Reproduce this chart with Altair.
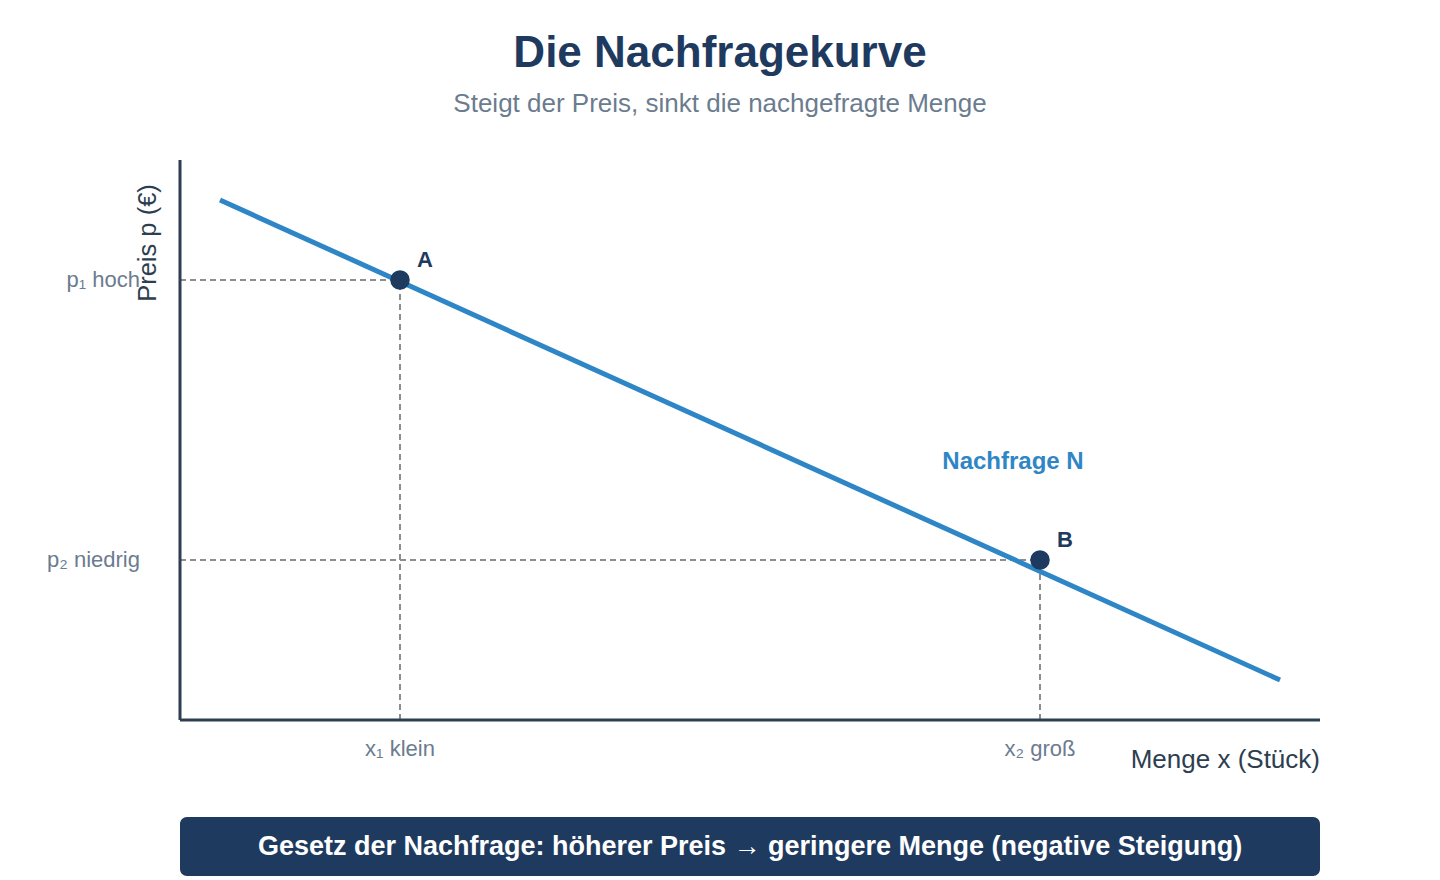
import altair as alt
import pandas as pd

FONT = "Liberation Sans"
NAVY = "#1f3a5f"
BLUE = "#2e86c6"
GREY = "#6b7c8f"
AXIS = "#2d3e50"

# Demand curve endpoints (quantity, price)
demand_qty = [2, 55]
demand_price = [26, 2]

# Marked points on the curve
point_names = ["A", "B"]
point_qty = [11, 43]
point_price = [22, 8]

# Axis extents
qty_max = 57
price_max = 28

# Tick labels
price_labels = ["p\u2081 hoch", "p\u2082 niedrig"]
qty_labels = ["x\u2081 klein", "x\u2082 gro\u00df"]

title_text = "Die Nachfragekurve"
subtitle_text = "Steigt der Preis, sinkt die nachgefragte Menge"
law_text = "Gesetz der Nachfrage: h\u00f6herer Preis \u2192 geringere Menge (negative Steigung)"
curve_label = "Nachfrage N"

xs = alt.Scale(domain=[0, qty_max], range=[180, 1320])
ys = alt.Scale(domain=[0, price_max], range=[720, 160])

demand = pd.DataFrame({"qty": demand_qty, "price": demand_price})
pts = pd.DataFrame({"name": point_names, "qty": point_qty, "price": point_price,
                    "plabel": price_labels, "qlabel": qty_labels,
                    "zero": [0, 0]})
axes = pd.DataFrame({"qty": [0, 0], "price": [0, 0],
                     "qty2": [qty_max, 0], "price2": [0, price_max]})

X = lambda f: alt.X(f, type="quantitative", scale=xs, axis=None)
Y = lambda f: alt.Y(f, type="quantitative", scale=ys, axis=None)

dash_h = alt.Chart(pts).mark_rule(color="#8a8f94", strokeWidth=2, strokeDash=[6, 4]).encode(
    x=X("zero"), x2="qty", y=Y("price"))
dash_v = alt.Chart(pts).mark_rule(color="#8a8f94", strokeWidth=2, strokeDash=[6, 4]).encode(
    x=X("qty"), y=Y("zero"), y2="price")

axis_lines = alt.Chart(axes).mark_rule(color=AXIS, strokeWidth=3).encode(
    x=X("qty"), x2="qty2", y=Y("price"), y2="price2")

curve = alt.Chart(demand).mark_line(color=BLUE, strokeWidth=5).encode(
    x=X("qty"), y=Y("price"))

dots = alt.Chart(pts).mark_circle(color=NAVY, opacity=1, size=380).encode(
    x=X("qty"), y=Y("price"))

dot_labels = alt.Chart(pts).mark_text(font=FONT, fontSize=22, fontWeight="bold", color=NAVY,
                                      dx=25, dy=-20).encode(
    x=X("qty"), y=Y("price"), text="name")

p_labels = alt.Chart(pts).mark_text(font=FONT, fontSize=22, color=GREY, align="right",
                                    baseline="middle").encode(
    x=alt.value(140), y=Y("price"), text="plabel")

q_labels = alt.Chart(pts).mark_text(font=FONT, fontSize=22, color=GREY, align="center",
                                    baseline="middle").encode(
    x=X("qty"), y=alt.value(749), text="qlabel")

curve_text = alt.Chart(pd.DataFrame({"t": [curve_label], "qty": [41.65], "price": [12.9]})).mark_text(
    font=FONT, fontSize=24, fontWeight="bold", color=BLUE).encode(
    x=X("qty"), y=Y("price"), text="t")

y_title = alt.Chart(pd.DataFrame({"t": ["Preis p (\u20ac)"]})).mark_text(
    font=FONT, fontSize=25.5, color=AXIS, angle=270, baseline="middle").encode(
    x=alt.value(148), y=alt.value(243), text="t")

x_title = alt.Chart(pd.DataFrame({"t": ["Menge x (St\u00fcck)"]})).mark_text(
    font=FONT, fontSize=26, color=AXIS, align="right", baseline="middle").encode(
    x=alt.value(1320), y=alt.value(760), text="t")

title = alt.Chart(pd.DataFrame({"t": [title_text]})).mark_text(
    font=FONT, fontSize=44, fontWeight="bold", color=NAVY, baseline="middle").encode(
    x=alt.value(720), y=alt.value(54), text="t")

subtitle = alt.Chart(pd.DataFrame({"t": [subtitle_text]})).mark_text(
    font=FONT, fontSize=26, color=GREY, baseline="middle").encode(
    x=alt.value(720), y=alt.value(104), text="t")

box = alt.Chart(pd.DataFrame({"t": [law_text]})).mark_rect(color=NAVY, cornerRadius=7).encode(
    x=alt.value(180), x2=alt.value(1320), y=alt.value(817), y2=alt.value(876))

box_text = alt.Chart(pd.DataFrame({"t": [law_text]})).mark_text(
    font=FONT, fontSize=27, fontWeight="bold", color="white", baseline="middle").encode(
    x=alt.value(750), y=alt.value(847), text="t")

chart = alt.layer(
    dash_h, dash_v, axis_lines, curve, dots, dot_labels, p_labels, q_labels,
    curve_text, y_title, x_title, title, subtitle, box, box_text
).properties(
    width=1440, height=880, padding=0, autosize="none", background="white"
).configure_view(stroke=None)

chart.save("out.html", embed_options={"renderer": "svg", "actions": False})
